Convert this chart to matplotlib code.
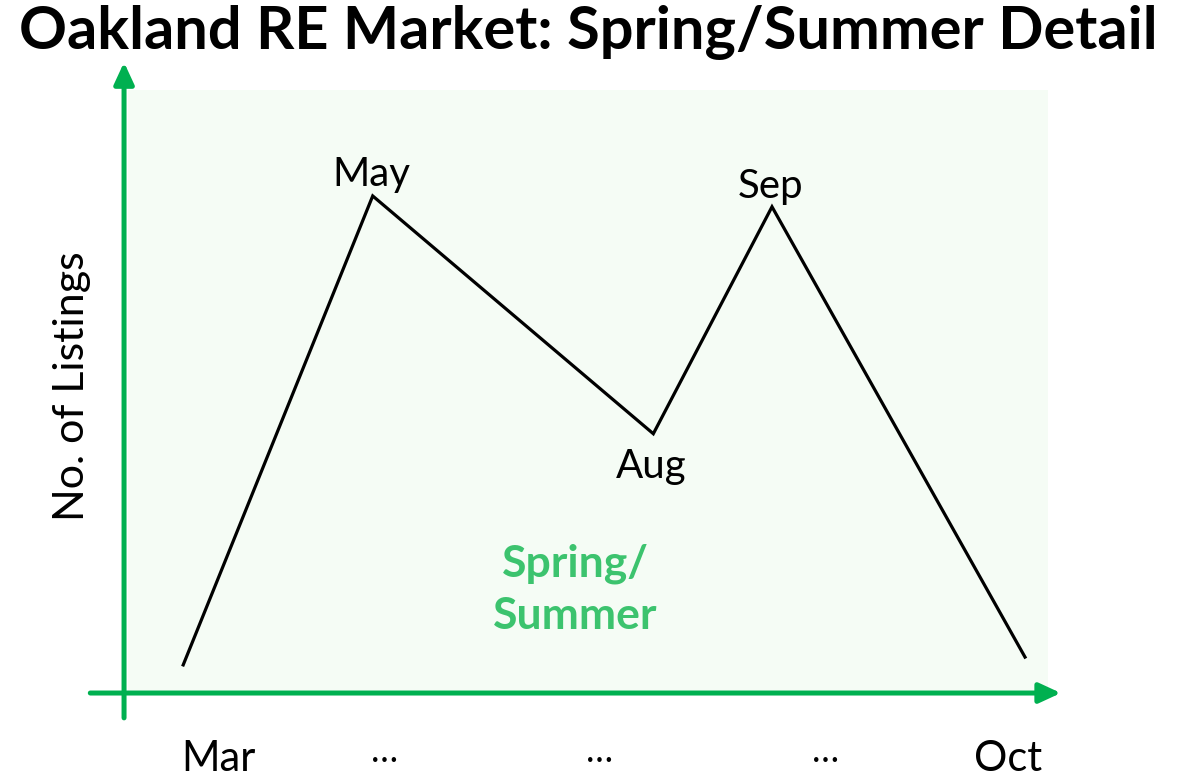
import matplotlib
matplotlib.use("Agg")
import matplotlib.pyplot as plt

# positions are in a 0-100 frame over the shaded plot area
months = ["Mar", "May", "Aug", "Sep", "Oct"]
month_x = [6.0, 26.6, 57.1, 70.0, 97.5]
listings = [4.5, 82.4, 42.9, 80.6, 5.8]

peak_labels = ["May", "Aug", "Sep"]
tick_labels = ["Mar", "…", "…", "…", "Oct"]
tick_x = [9.8, 27.9, 51.3, 75.8, 95.7]

GREEN = "#00B050"
SHADE = "#F5FCF5"
TEXT_GREEN = "#3CC36E"

plt.rcParams["font.family"] = ["Lato", "DejaVu Sans"]

W, H = 1183, 779
fig = plt.figure(figsize=(W / 100, H / 100), dpi=100)
ax = fig.add_axes([128 / W, (H - 692) / H, (1048 - 128) / W, (692 - 90) / H])
ax.set_xlim(0, 100)
ax.set_ylim(0, 100)
ax.set_facecolor(SHADE)
for side in ax.spines.values():
    side.set_visible(False)
ax.set_xticks([])
ax.set_yticks([])

ax.plot(month_x, listings, color="black", lw=2.3, solid_joinstyle="miter", zorder=3)

# peak / trough labels (baseline offset from the point)
offsets = {"May": 1.7, "Aug": -7.4, "Sep": 1.5}
for name in peak_labels:
    i = months.index(name)
    ax.text(month_x[i] - 0.2, listings[i] + offsets[name], name, fontsize=29,
            ha="center", va="baseline", zorder=4)

# axes drawn as arrows
arrow = dict(arrowstyle="-|>,head_length=1.3,head_width=0.6", color=GREEN,
             lw=3.6, shrinkA=0, shrinkB=0)
ax.annotate("", xy=(-0.43, 104.6), xytext=(-0.43, -4.3),
            arrowprops=arrow, annotation_clip=False)
ax.annotate("", xy=(101.4, -0.17), xytext=(-4.1, -0.17),
            arrowprops=arrow, annotation_clip=False)

# bottom month labels
for x, lab in zip(tick_x, tick_labels):
    if lab == "…":
        ax.text(x, -9.9, lab, fontsize=26, ha="center", va="center")
    else:
        ax.text(x, -14.3, lab, fontsize=30, ha="center", va="bottom")

ax.text(48.6, 17.0, "Spring/\nSummer", fontsize=32, fontweight="bold",
        color=TEXT_GREEN, ha="center", va="center", linespacing=1.38)

fig.text(72 / W, 1 - 386 / H, "No. of Listings", rotation=90, fontsize=31,
         ha="center", va="center")
fig.text(588 / W, 1 - 32 / H, "Oakland RE Market: Spring/Summer Detail",
         fontsize=42.8, fontweight="bold", ha="center", va="center")

fig.savefig("out.png", dpi=100, facecolor="white")
